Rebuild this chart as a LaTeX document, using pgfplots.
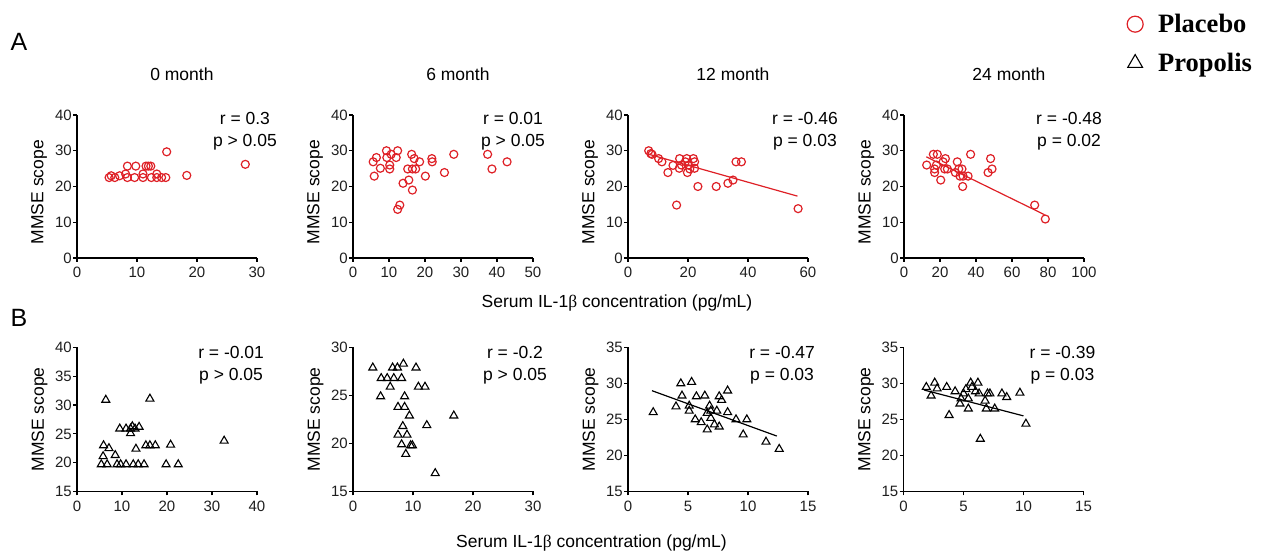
\documentclass[border=0pt]{standalone}
\usepackage{pgfplots}
\pgfplotsset{compat=1.18}
\usepackage{fontspec}
\setmainfont{Liberation Sans}
\newfontfamily\timesfont{Liberation Serif}
\definecolor{pred}{RGB}{222,32,38}
\definecolor{tickgray}{RGB}{30,30,30}
\newcommand{\tickfont}{\fontsize{15}{17}\selectfont}
\newcommand{\labfont}{\fontsize{17.5}{21}\selectfont}
\newcommand{\annfont}{\fontsize{17.5}{22}\selectfont}
\pgfplotsset{
  panel/.style={
    scale only axis, width=180pt, clip=false,
    axis lines=left,
    axis line style={-, line width=1.2pt, black},
    tick style={line width=1.2pt, black},
    tick align=outside, major tick length=4pt,
    ticklabel style={font=\tickfont, text=tickgray},
    yticklabel style={inner xsep=1pt},
    xticklabel style={yshift=-2pt},
    /pgf/number format/assume math mode=true,
    ylabel={MMSE scope},
    ylabel style={font=\labfont},
    title style={font=\labfont, at={(axis description cs:0.583,1.245)}, anchor=center},
  },
  rowA/.style={height=143pt, ymin=0, ymax=40, ytick={0,10,20,30,40},
    ylabel style={at={(axis description cs:-0.21,0.46)}, anchor=center}},
  rowB/.style={height=144pt,
    ylabel style={at={(axis description cs:-0.208,0.5)}, anchor=center}},
  plac/.style={only marks, mark=o, mark size=4pt, pred, line width=1.2pt},
  prop/.style={only marks, mark=triangle, mark size=4.6pt, black, line width=1.1pt},
}
\begin{document}
\begin{tikzpicture}
\path[use as bounding box] (0,0) rectangle (1277pt,553pt);
\node[font=\fontsize{25}{28}\selectfont] at (19pt,511pt) {A};
\node[font=\fontsize{25}{28}\selectfont] at (19pt,235pt) {B};
\node[font=\labfont] at (617pt,250pt) {Serum IL-1{\timesfont β} concentration (pg/mL)};
\node[font=\labfont] at (591.5pt,10.3pt) {Serum IL-1{\timesfont β} concentration (pg/mL)};

% ---------------- Row A ----------------
\begin{axis}[panel, rowA, at={(77pt,295pt)}, anchor=south west,
  xmin=0, xmax=30, xtick={0,10,20,30}, title={0 month}]
\addplot[plac] coordinates {(5.35,22.5) (5.7,23.0) (6.3,22.5) (7.1,23.0) (8.1,23.5) (8.4,22.5) (8.4,25.7) (9.6,22.5) (9.8,25.7) (11.0,23.5) (11.0,22.5) (11.5,25.7) (11.9,25.7) (12.3,25.7) (12.4,22.5) (13.3,23.5) (13.3,22.5) (14.1,22.5) (14.8,22.5) (14.95,29.7) (18.3,23.1) (28.05,26.2)};
\node[font=\annfont, align=center] at (axis description cs:0.933,0.885) {r = 0.3\\p > 0.05};
\end{axis}

\begin{axis}[panel, rowA, at={(353pt,295pt)}, anchor=south west,
  xmin=0, xmax=50, xtick={0,10,20,30,40,50}, title={6 month}]
\addplot[plac] coordinates {(5.6,26.9) (5.9,22.9) (6.5,28.1) (7.6,25.1) (9.3,30.0) (9.4,28.1) (10.2,26.0) (10.2,24.9) (10.6,29.0) (12.0,28.1) (12.4,30.0) (12.4,13.6) (13.0,14.8) (13.9,20.9) (15.2,24.9) (15.5,21.8) (16.3,29.0) (16.5,19.0) (16.5,24.9) (17.0,27.8) (17.4,24.9) (18.5,26.9) (20.1,22.9) (21.9,27.8) (22.0,26.9) (25.4,23.9) (28.0,29.0) (37.4,29.0) (38.6,24.9) (42.8,26.9)};
\node[font=\annfont, align=center] at (axis description cs:0.889,0.885) {r = 0.01\\p > 0.05};
\end{axis}

\begin{axis}[panel, rowA, at={(628pt,295pt)}, anchor=south west,
  xmin=0, xmax=60, xtick={0,20,40,60}, title={12 month}]
\addplot[plac] coordinates {(6.9,30.0) (7.6,29.2) (8.0,29.0) (10.2,27.8) (11.3,26.9) (13.3,23.9) (15.0,25.9) (16.2,14.8) (17.2,27.8) (17.1,25.1) (17.8,26.0) (19.1,26.9) (19.6,27.8) (19.8,23.9) (20.2,26.0) (20.6,24.9) (21.8,27.8) (22.2,26.9) (22.2,25.1) (23.3,20.0) (29.4,20.0) (33.3,20.9) (35.0,21.8) (36.0,26.9) (37.8,26.9) (56.7,13.8)};
\addplot[pred, line width=1.2pt, no marks] coordinates {(7.0,29.0) (56.5,17.3)};
\node[font=\annfont, align=center] at (axis description cs:0.983,0.885) {r = -0.46\\p = 0.03};
\end{axis}

\begin{axis}[panel, rowA, at={(904pt,295pt)}, anchor=south west,
  xmin=0, xmax=100, xtick={0,20,40,60,80,100}, title={24 month},
  legend style={draw=none, fill=none, at={(axis description cs:1.222,1.734)}, anchor=north west,
    font=\timesfont\bfseries\fontsize{26.5}{30}\selectfont, row sep=15pt, column sep=13pt},
  legend cell align=left]
\addplot[plac, forget plot] coordinates {(12.6,26.0) (16.3,29.0) (17.0,24.9) (17.0,23.9) (18.5,29.0) (18.0,26.0) (20.4,21.8) (21.7,26.9) (23.0,27.8) (22.6,24.9) (24.1,24.9) (28.5,23.9) (29.6,26.9) (30.4,24.9) (31.1,22.9) (32.2,24.9) (32.6,20.0) (32.8,22.9) (35.6,22.9) (37.0,29.0) (46.7,23.9) (48.1,27.8) (48.9,24.9) (72.6,14.8) (78.5,10.9)};
\addplot[pred, line width=1.2pt, no marks, forget plot] coordinates {(12.4,28.3) (78.1,12.1)};
\node[font=\annfont, align=center] at (axis description cs:0.917,0.885) {r = -0.48\\p = 0.02};
\addlegendimage{only marks, mark=o, mark size=8pt, pred, line width=1.2pt}
\addlegendentry{Placebo}
\addlegendimage{only marks, mark=triangle, mark size=8.5pt, black, line width=1.1pt}
\addlegendentry{Propolis}
\end{axis}

% ---------------- Row B ----------------
\begin{axis}[panel, rowB, at={(77pt,61.5pt)}, anchor=south west,
  xmin=0, xmax=40, xtick={0,10,20,30,40}, ymin=15, ymax=40, ytick={15,20,25,30,35,40}]
\addplot[prop] coordinates {(6.4,30.9) (16.2,31.1) (32.7,23.8) (5.9,23.0) (7.1,22.5) (5.8,21.1) (8.5,21.3) (5.4,19.7) (6.7,19.7) (8.9,19.7) (9.7,19.7) (10.9,19.7) (12.5,19.7) (13.6,19.7) (14.9,19.7) (19.8,19.7) (22.5,19.7) (9.5,25.9) (10.9,25.9) (11.9,25.9) (12.3,26.3) (12.9,25.9) (13.8,26.2) (11.9,25.1) (13.1,22.4) (15.3,23.0) (16.2,23.0) (17.4,23.0) (20.8,23.1)};
\node[font=\annfont, align=center] at (axis description cs:0.856,0.88) {r = -0.01\\p > 0.05};
\end{axis}

\begin{axis}[panel, rowB, at={(353pt,61.5pt)}, anchor=south west,
  xmin=0, xmax=30, xtick={0,10,20,30}, ymin=15, ymax=30, ytick={15,20,25,30}]
\addplot[prop] coordinates {(3.3,27.9) (4.7,26.8) (4.6,24.9) (5.7,26.8) (6.2,25.9) (6.6,27.9) (6.8,26.8) (7.4,27.9) (8.1,26.8) (8.4,28.3) (8.6,24.9) (7.5,23.8) (8.6,23.8) (9.4,22.9) (8.3,21.8) (7.5,20.9) (9.0,20.9) (8.1,19.9) (9.6,19.8) (9.9,19.8) (8.8,18.9) (10.5,27.9) (10.9,25.9) (12.0,25.9) (12.3,21.9) (13.7,16.9) (16.8,22.9)};
\node[font=\annfont, align=center] at (axis description cs:0.9,0.88) {r = -0.2\\p > 0.05};
\end{axis}

\begin{axis}[panel, rowB, at={(628pt,61.5pt)}, anchor=south west,
  xmin=0, xmax=15, xtick={0,5,10,15}, ymin=15, ymax=35, ytick={15,20,25,30,35}]
\addplot[prop] coordinates {(2.1,26.0) (4.0,26.8) (4.4,30.0) (4.5,28.3) (5.3,30.2) (5.1,26.9) (5.1,26.2) (5.6,25.0) (5.7,28.2) (6.1,24.6) (6.4,28.3) (6.6,25.9) (6.6,23.6) (6.8,26.9) (6.9,26.2) (6.9,25.2) (7.2,24.3) (7.4,26.2) (7.6,24.0) (7.6,28.2) (7.8,27.7) (8.3,29.0) (8.3,26.0) (9.0,25.0) (9.9,25.0) (9.6,22.9) (11.5,21.9) (12.6,20.9)};
\addplot[black, line width=1.2pt, no marks] coordinates {(2.0,29.0) (12.4,22.7)};
\node[font=\annfont, align=center] at (axis description cs:0.856,0.88) {r = -0.47\\p = 0.03};
\end{axis}

\begin{axis}[panel, rowB, at={(903.5pt,61.5pt)}, anchor=south west,
  xmin=0, xmax=15, xtick={0,5,10,15}, ymin=15, ymax=35, ytick={15,20,25,30,35}]
\addplot[prop] coordinates {(1.9,29.5) (2.3,28.3) (2.6,30.1) (2.8,29.3) (3.6,29.5) (3.8,25.6) (4.3,28.9) (4.7,27.2) (4.8,27.9) (5.0,28.6) (5.2,29.2) (5.4,26.5) (5.4,27.9) (5.6,30.1) (5.7,29.5) (6.0,28.9) (6.2,30.1) (6.3,28.6) (6.4,22.3) (6.8,27.6) (6.9,26.5) (7.0,28.6) (7.2,28.6) (7.6,26.5) (8.2,28.6) (8.6,28.1) (9.7,28.7) (10.2,24.4)};
\addplot[black, line width=1.2pt, no marks] coordinates {(1.7,29.1) (10.0,25.5)};
\node[font=\annfont, align=center] at (axis description cs:0.883,0.88) {r = -0.39\\p = 0.03};
\end{axis}
\end{tikzpicture}
\end{document}
